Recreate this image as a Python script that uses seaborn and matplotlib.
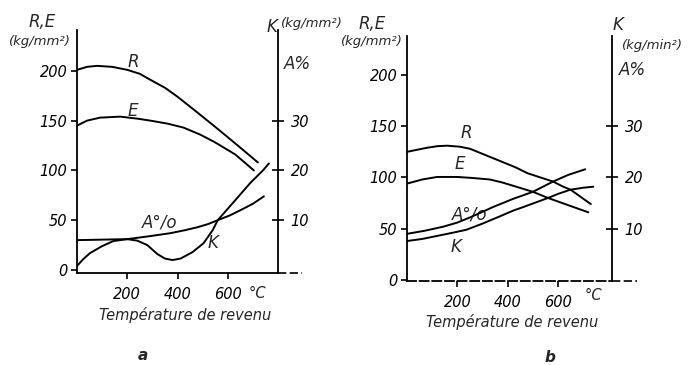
import matplotlib
matplotlib.use("Agg")
import matplotlib.pyplot as plt
import seaborn as sns

sns.set_style("white")
plt.rcParams['font.family'] = ['DejaVu Sans']
plt.rcParams['font.style'] = 'italic'
plt.rcParams['axes.linewidth'] = 1.3

# ---------------- data (panel a) ----------------
a_R_x = [0, 40, 80, 140, 200, 250, 292, 350, 400, 470, 544, 640, 720]
a_R_y = [201, 204, 205, 204, 201, 197, 191, 183, 174, 160, 145, 125, 108]
a_E_x = [0, 40, 92, 172, 240, 292, 360, 424, 490, 544, 630, 704]
a_E_y = [145, 150, 153, 154, 152, 150, 147, 143, 136, 129, 116, 100]
a_A_x = [0, 200, 290, 372, 430, 480, 520, 560, 610, 650, 700, 744]
a_A_y = [6.0, 6.2, 6.8, 7.4, 8.0, 8.6, 9.2, 10.0, 11.0, 12.0, 13.3, 14.8]
a_K_x = [0, 25, 52, 100, 144, 200, 240, 280, 320, 350, 380, 412, 460, 504,
         540, 560, 600, 640, 690, 740, 764]
a_K_y = [0.8, 2.2, 3.4, 4.8, 5.8, 6.2, 5.9, 5.0, 3.2, 2.3, 2.0, 2.3, 3.6, 5.4,
         8.0, 10.0, 12.3, 14.6, 17.5, 20.0, 21.4]

# ---------------- data (panel b) ----------------
b_R_x = [0, 40, 80, 120, 160, 210, 250, 310, 370, 430, 480, 530, 580, 620, 650, 690, 730]
b_R_y = [125, 127, 129, 130.5, 131, 130, 128, 122, 116, 110, 104, 100, 96, 91, 88, 81, 74]
b_E_x = [0, 30, 60, 120, 200, 260, 330, 380, 420, 460, 500, 560, 600, 640, 680, 720]
b_E_y = [94, 96, 98, 100.5, 100.5, 99.5, 98, 95, 92, 89, 86, 80, 76.5, 73, 69.5, 66]
b_A_x = [0, 70, 144, 200, 250, 300, 340, 380, 420, 460, 500, 540, 580, 640, 708]
b_A_y = [9.0, 9.6, 10.4, 11.2, 12.2, 13.3, 14.2, 15.0, 15.8, 16.5, 17.2, 18.2, 19.2, 20.5, 21.6]
b_K_x = [0, 60, 120, 180, 236, 300, 368, 420, 460, 510, 560, 600, 648, 700, 740]
b_K_y = [7.6, 8.0, 8.6, 9.2, 9.8, 11.0, 12.4, 13.5, 14.2, 15.1, 16.0, 16.8, 17.6, 18.0, 18.2]

x_ticks = [200, 400, 600]
x_ticklabels = ["200", "400", "600"]
left_ticks = [0, 50, 100, 150, 200]
right_ticks = [10, 20, 30]

W, H = 694, 365
fig = plt.figure(figsize=(W / 100, H / 100), dpi=100)


def make_axes(l, r, top, bot):
    return fig.add_axes([l / W, (H - bot) / H, (r - l) / W, (bot - top) / H])


FS = 10.5
LW = 1.4


def setup(ax, axr, xmax, ylim, dashed_bottom):
    ax.set_xlim(0, xmax)
    ax.set_ylim(*ylim)
    axr.set_ylim(ylim[0] / 5, ylim[1] / 5)
    for s in ['top', 'right']:
        ax.spines[s].set_visible(False)
    for s in ['top', 'left', 'bottom']:
        axr.spines[s].set_visible(False)
    for s in ['left', 'bottom']:
        ax.spines[s].set_color('black')
    axr.spines['right'].set_color('black')
    if dashed_bottom:
        ax.spines['bottom'].set_linestyle((0, (5, 2)))
    ax.set_xticks(x_ticks)
    ax.set_xticklabels(x_ticklabels)
    ax.set_yticks(left_ticks)
    ax.set_yticklabels([str(v) for v in left_ticks])
    axr.set_yticks(right_ticks)
    axr.set_yticklabels([str(v) for v in right_ticks])
    ax.tick_params(axis='y', direction='out', length=4, width=1.2, colors='black', labelsize=FS, pad=3, left=True)
    ax.tick_params(axis='x', direction='out', length=4, width=1.2, colors='black', labelsize=FS, pad=6, bottom=True)
    axr.tick_params(axis='y', direction='inout', length=8, width=1.2, colors='black', labelsize=FS, pad=5, right=True)
    ax.set_xlabel("")
    ax.set_ylabel("")
    axr.set_ylabel("")
    ax.grid(False)
    axr.grid(False)
    # baseline extending past the right axis
    ax.plot([1.0, 1.12], [0, 0], transform=ax.transAxes, color='black', lw=1.2,
            clip_on=False, ls=(0, (5, 2)))


# ---------------- panel a ----------------
ax1 = make_axes(77, 278, 30, 273)
ax1r = ax1.twinx()
ax1r.set_position(ax1.get_position())
sns.lineplot(x=a_R_x, y=a_R_y, ax=ax1, color='black', lw=LW, legend=False)
sns.lineplot(x=a_E_x, y=a_E_y, ax=ax1, color='black', lw=LW, legend=False)
sns.lineplot(x=a_A_x, y=a_A_y, ax=ax1r, color='black', lw=LW, legend=False)
sns.lineplot(x=a_K_x, y=a_K_y, ax=ax1r, color='black', lw=LW, legend=False)
setup(ax1, ax1r, 800, (-3, 241), False)
ax1.text(224, 209, "R", fontsize=12, ha='center', va='center')
ax1.text(224, 160, "E", fontsize=12, ha='center', va='center')
ax1.text(330, 48, "A°/o", fontsize=12, ha='center', va='center')
ax1.text(540, 27, "K", fontsize=12, ha='center', va='center')

# ---------------- panel b ----------------
ax2 = make_axes(407, 612, 36, 281)
ax2r = ax2.twinx()
ax2r.set_position(ax2.get_position())
sns.lineplot(x=b_R_x, y=b_R_y, ax=ax2, color='black', lw=LW, legend=False)
sns.lineplot(x=b_E_x, y=b_E_y, ax=ax2, color='black', lw=LW, legend=False)
sns.lineplot(x=b_A_x, y=b_A_y, ax=ax2r, color='black', lw=LW, legend=False)
sns.lineplot(x=b_K_x, y=b_K_y, ax=ax2r, color='black', lw=LW, legend=False)
setup(ax2, ax2r, 814, (-1, 238), True)
ax2.text(236, 143, "R", fontsize=12, ha='center', va='center')
ax2.text(208, 113, "E", fontsize=12, ha='center', va='center')
ax2.text(248, 64, "A°/o", fontsize=12, ha='center', va='center')
ax2.text(196, 32, "K", fontsize=12, ha='center', va='center')

# ---------------- figure-level texts (pixel positions) ----------------
def ftext(x, y, s, **kw):
    fig.text(x / W, (H - y) / H, s, ha='center', va='center', **kw)

ftext(42, 22, "R,E", fontsize=12)
ftext(40, 41, "(kg/mm²)", fontsize=9.5)
ftext(272, 27, "K", fontsize=12)
ftext(312, 24, "(kg/mm²)", fontsize=9.5)
ftext(297, 64, "A%", fontsize=12)
ftext(372, 24, "R,E", fontsize=12)
ftext(372, 42, "(kg/mm²)", fontsize=9.5)
ftext(618, 25, "K", fontsize=12)
ftext(652, 46, "(kg/min²)", fontsize=9.5)
ftext(632, 70, "A%", fontsize=12)

ftext(257, 293, "°C", fontsize=FS)
ftext(593, 296, "°C", fontsize=FS)

ftext(185, 315, "Température de revenu", fontsize=10.5)
ftext(512, 322, "Température de revenu", fontsize=10.5)
ftext(143, 356, "a", fontsize=11, fontweight='bold')
ftext(550, 358, "b", fontsize=11, fontweight='bold')

fig.savefig("out.png", dpi=100, facecolor='white')
